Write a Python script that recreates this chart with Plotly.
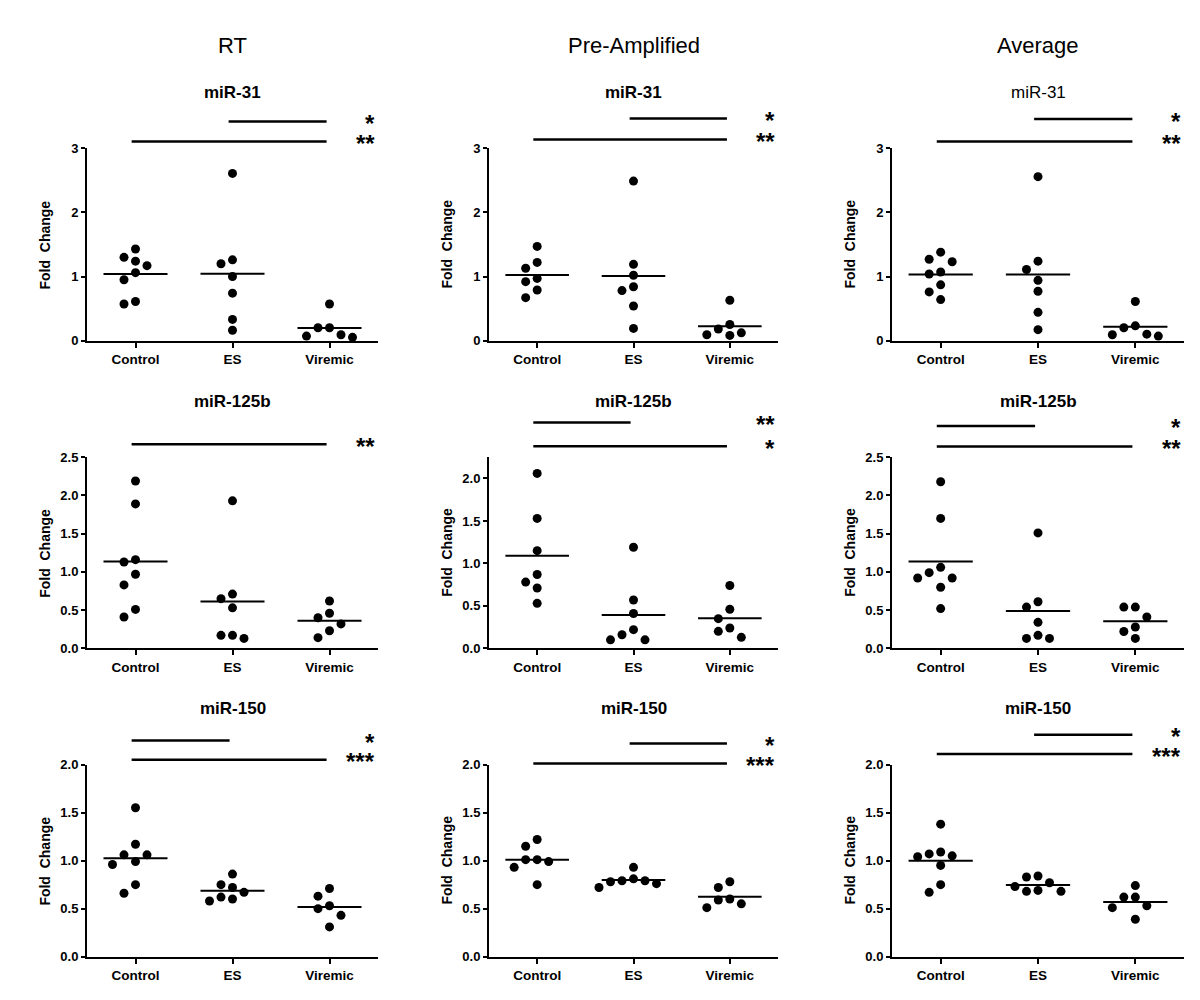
import numpy as np
import plotly.graph_objects as go

# ---- data ----
groups = ["Control", "ES", "Viremic"]
methods = ["RT", "Pre-Amplified", "Average"]
mirnas = ["miR-31", "miR-125b", "miR-150"]

rt_mir31_control = [1.30, 1.43, 1.24, 1.17, 1.06, 0.95, 0.57, 0.61]
rt_mir31_es = [2.61, 1.26, 1.20, 1.00, 0.74, 0.33, 0.16]
rt_mir31_viremic = [0.57, 0.20, 0.20, 0.09, 0.05, 0.07]

pre_mir31_control = [1.47, 1.22, 1.13, 0.97, 0.92, 0.79, 0.67]
pre_mir31_es = [2.49, 1.19, 1.02, 0.84, 0.78, 0.54, 0.19]
pre_mir31_viremic = [0.63, 0.25, 0.12, 0.08, 0.09, 0.18]

avg_mir31_control = [1.38, 1.27, 1.23, 1.04, 1.07, 0.87, 0.76, 0.64]
avg_mir31_es = [2.56, 1.24, 1.11, 0.94, 0.77, 0.44, 0.17]
avg_mir31_viremic = [0.61, 0.23, 0.20, 0.10, 0.07, 0.09]

rt_mir125b_control = [2.19, 1.89, 0.97, 1.13, 1.16, 0.83, 0.51, 0.41]
rt_mir125b_es = [1.93, 0.71, 0.65, 0.53, 0.17, 0.13, 0.17]
rt_mir125b_viremic = [0.62, 0.46, 0.40, 0.32, 0.23, 0.14]

pre_mir125b_control = [2.06, 1.53, 1.15, 0.78, 0.87, 0.71, 0.53]
pre_mir125b_es = [1.19, 0.57, 0.41, 0.16, 0.22, 0.10, 0.10]
pre_mir125b_viremic = [0.74, 0.46, 0.35, 0.24, 0.20, 0.13]

avg_mir125b_control = [2.18, 1.70, 1.06, 0.99, 0.92, 0.92, 0.80, 0.52]
avg_mir125b_es = [1.51, 0.61, 0.54, 0.34, 0.17, 0.13, 0.13]
avg_mir125b_viremic = [0.54, 0.54, 0.41, 0.28, 0.22, 0.13]

rt_mir150_control = [1.55, 1.17, 1.06, 1.06, 0.99, 0.96, 0.75, 0.66]
rt_mir150_es = [0.86, 0.75, 0.72, 0.62, 0.58, 0.60, 0.67]
rt_mir150_viremic = [0.71, 0.63, 0.50, 0.53, 0.43, 0.31]

pre_mir150_control = [1.22, 1.15, 1.01, 0.99, 1.01, 0.93, 0.75]
pre_mir150_es = [0.93, 0.79, 0.78, 0.72, 0.81, 0.76, 0.79]
pre_mir150_viremic = [0.78, 0.72, 0.59, 0.51, 0.55, 0.60]

avg_mir150_control = [1.38, 1.07, 1.04, 1.09, 1.05, 0.95, 0.75, 0.67]
avg_mir150_es = [0.84, 0.83, 0.77, 0.69, 0.68, 0.68, 0.73]
avg_mir150_viremic = [0.74, 0.62, 0.62, 0.53, 0.51, 0.39]

# significance brackets: (from group, to group, height in data units, label)
rt_mir31_sig = [(1, 2, 3.42, "*"), (0, 2, 3.11, "**")]
pre_mir31_sig = [(1, 2, 3.47, "*"), (0, 2, 3.14, "**")]
avg_mir31_sig = [(1, 2, 3.46, "*"), (0, 2, 3.11, "**")]
rt_mir125b_sig = [(0, 2, 2.67, "**")]
pre_mir125b_sig = [(0, 1, 2.66, "**"), (0, 2, 2.38, "*")]
avg_mir125b_sig = [(0, 1, 2.91, "*"), (0, 2, 2.64, "**")]
rt_mir150_sig = [(0, 1, 2.25, "*"), (0, 2, 2.05, "***")]
pre_mir150_sig = [(1, 2, 2.22, "*"), (0, 2, 2.01, "***")]
avg_mir150_sig = [(1, 2, 2.31, "*"), (0, 2, 2.11, "***")]

y_max = [[3, 3, 3], [2.5, 2.25, 2.5], [2, 2, 2]]

panels = [
    [(rt_mir31_control, rt_mir31_es, rt_mir31_viremic, rt_mir31_sig),
     (pre_mir31_control, pre_mir31_es, pre_mir31_viremic, pre_mir31_sig),
     (avg_mir31_control, avg_mir31_es, avg_mir31_viremic, avg_mir31_sig)],
    [(rt_mir125b_control, rt_mir125b_es, rt_mir125b_viremic, rt_mir125b_sig),
     (pre_mir125b_control, pre_mir125b_es, pre_mir125b_viremic, pre_mir125b_sig),
     (avg_mir125b_control, avg_mir125b_es, avg_mir125b_viremic, avg_mir125b_sig)],
    [(rt_mir150_control, rt_mir150_es, rt_mir150_viremic, rt_mir150_sig),
     (pre_mir150_control, pre_mir150_es, pre_mir150_viremic, pre_mir150_sig),
     (avg_mir150_control, avg_mir150_es, avg_mir150_viremic, avg_mir150_sig)],
]

# ---- layout (pixel boxes of each plot area, figure coords) ----
W, H = 1200, 1000
col_px = [(79, 370), (481, 770), (884, 1176)]
row_px = [(135.5, 330.5), (449, 643), (761, 956)]
FONT = "Liberation Sans, Arial, sans-serif"


def swarm(vals, px_per_unit, diam=11.0):
    # simple greedy beeswarm: column slots 0, -1, +1, -2, +2 ...
    order = sorted(range(len(vals)), key=lambda i: -vals[i])
    placed = []
    slots = [0] * len(vals)
    for i in order:
        y = vals[i] * px_per_unit
        for c in [0, -1, 1, -2, 2, -3, 3, -4, 4]:
            if all(not (s == c and abs(py - y) < diam) for s, py in placed):
                slots[i] = c
                break
        placed.append((slots[i], y))
    return slots


fig = go.Figure()
shapes = []
annotations = []

for r in range(3):
    for c in range(3):
        n = r * 3 + c + 1
        xa = "x" if n == 1 else f"x{n}"
        ya = "y" if n == 1 else f"y{n}"
        x0, x1 = col_px[c]
        top, bot = row_px[r]
        ymax = y_max[r][c]
        px_per_unit = (bot - top) / ymax
        px_per_cat = (x1 - x0) / 3
        step = 11.5 / px_per_cat

        *series, sig = panels[r][c]
        for g, vals in enumerate(series):
            slots = swarm(vals, px_per_unit)
            fig.add_trace(go.Scatter(
                x=[g + s * step for s in slots], y=vals, mode="markers",
                marker=dict(color="black", size=9), cliponaxis=False,
                xaxis=xa, yaxis=ya, showlegend=False, hoverinfo="y"))
            m = float(np.mean(vals))
            fig.add_trace(go.Scatter(
                x=[g - 0.33, g + 0.33], y=[m, m], mode="lines",
                line=dict(color="black", width=2),
                xaxis=xa, yaxis=ya, showlegend=False, hoverinfo="skip"))

        fig.layout[xa.replace("x", "xaxis")] = dict(
            domain=[x0 / W, x1 / W], anchor=ya, range=[-0.5, 2.5],
            tickvals=[0, 1, 2], ticktext=groups, showline=True, linecolor="black",
            linewidth=2, ticks="outside", ticklen=5, tickwidth=2, tickcolor="black",
            showgrid=False, zeroline=False, fixedrange=True,
            tickfont=dict(family=FONT, size=13.5, color="black", weight="bold"))
        fig.layout[ya.replace("y", "yaxis")] = dict(
            domain=[1 - bot / H, 1 - top / H], anchor=xa, range=[0, ymax],
            dtick=1 if r == 0 else 0.5, tickformat="d" if r == 0 else ".1f",
            showline=True, linecolor="black", linewidth=2, ticks="outside",
            ticklen=4, tickwidth=2, tickcolor="black", showgrid=False,
            zeroline=False, fixedrange=True,
            tickfont=dict(family=FONT, size=13, color="black", weight="bold"))

        for a, b, level, label in sig:
            shapes.append(dict(
                type="line", xref=xa, yref=f"{ya} domain", x0=a - 0.04, x1=b - 0.03,
                y0=level / ymax, y1=level / ymax, line=dict(color="black", width=2.5)))
            annotations.append(dict(
                xref=f"{xa} domain", yref=f"{ya} domain", x=0.995, y=level / ymax,
                xanchor="right", yanchor="middle", yshift=-2, showarrow=False,
                text=label, font=dict(family=FONT, size=24, color="black", weight="bold")))

        annotations.append(dict(
            xref=f"{xa} domain", yref=f"{ya} domain", x=0, y=0.5, xshift=-42,
            textangle=-90, showarrow=False, xanchor="center", yanchor="middle",
            text="Fold&nbsp;&nbsp;Change",
            font=dict(family=FONT, size=14, color="black", weight="bold")))

        title_weight = "normal" if (r == 0 and c == 2) else "bold"
        annotations.append(dict(
            xref=xa, yref=f"{ya} domain", x=1, y=1, yshift=56, showarrow=False,
            xanchor="center", yanchor="middle", text=mirnas[r],
            font=dict(family=FONT, size=17, color="black", weight=title_weight)))

        if r == 0:
            annotations.append(dict(
                xref=xa, yref="paper", x=1, y=1 - 31 / H, showarrow=False,
                xanchor="center", yanchor="middle", text=methods[c],
                font=dict(family=FONT, size=22, color="black")))

fig.update_layout(
    width=W, height=H, margin=dict(l=0, r=0, t=0, b=0),
    paper_bgcolor="white", plot_bgcolor="white",
    shapes=shapes, annotations=annotations, showlegend=False,
    font=dict(family=FONT, color="black"))

fig.write_html("out.html")
